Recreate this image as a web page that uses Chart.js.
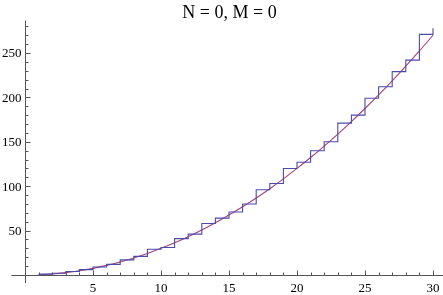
<!DOCTYPE html>
<html>
<head>
<meta charset="utf-8">
<script src="https://cdn.jsdelivr.net/npm/chart.js@4/dist/chart.umd.min.js"></script>
<style>
html, body { margin: 0; padding: 0; background: #ffffff; }
#wrap { width: 443px; height: 295px; position: relative; }
</style>
</head>
<body>
<div id="wrap"><canvas id="myChart"></canvas></div>
<script>
const titleText = "N = 0, M = 0";

// step function: value held on [n, n+1)
const stepX = [1, 2, 3, 4, 5, 6, 7, 8, 9, 10, 11, 12, 13, 14, 15, 16, 17, 18, 19, 20, 21, 22, 23, 24, 25, 26, 27, 28, 29, 30];
const stepY = [1, 2, 4, 6, 9, 12, 17, 21, 29, 31, 41, 46, 58, 64, 71, 80, 96, 103, 120, 127, 140, 150, 171, 180, 199, 212, 229, 242, 271, 278];

// smooth curve
const curveX = [1, 2, 3, 4, 5, 6, 7, 8, 9, 10, 11, 12, 13, 14, 15, 16, 17, 18, 19, 20, 21, 22, 23, 24, 25, 26, 27, 28, 29, 30];
const curveY = [0.3, 1.2, 2.7, 4.8, 7.5, 10.8, 14.7, 19.2, 24.3, 30, 36.3, 43.2, 50.7, 58.8, 67.5, 76.8, 86.7, 97.2, 108.3, 120, 132.3, 145.2, 158.7, 172.8, 187.5, 202.8, 218.7, 235.2, 252.3, 270];

const xTicks = [5, 10, 15, 20, 25, 30];
const yTicks = [50, 100, 150, 200, 250];

const axisColor = "#555555";
const serif = "'Liberation Serif', 'DejaVu Serif', serif";

const axesPlugin = {
    id: "mmaAxes",
    beforeDatasetsDraw(chart) {
        const c = chart.ctx;
        const xs = chart.scales.x;
        const ys = chart.scales.y;
        const x0 = Math.round(xs.getPixelForValue(0)) + 0.5;
        const y0 = Math.round(ys.getPixelForValue(0)) + 0.5;
        c.save();
        c.strokeStyle = axisColor;
        c.lineWidth = 1;
        c.beginPath();
        c.moveTo(xs.getPixelForValue(-1), y0);
        c.lineTo(xs.getPixelForValue(30.74), y0);
        c.moveTo(x0, ys.getPixelForValue(-9));
        c.lineTo(x0, ys.getPixelForValue(286.5));
        // x ticks, pointing up
        for (let v = 1; v <= 30; v++) {
            const px = Math.round(xs.getPixelForValue(v)) + 0.5;
            const len = v % 5 === 0 ? 5 : 3;
            c.moveTo(px, y0);
            c.lineTo(px, y0 - len);
        }
        // y ticks, pointing right
        for (let v = 10; v <= 280; v += 10) {
            const py = Math.round(ys.getPixelForValue(v)) + 0.5;
            const len = v % 50 === 0 ? 5 : 3;
            c.moveTo(x0, py);
            c.lineTo(x0 + len, py);
        }
        c.stroke();

        c.fillStyle = "#000000";
        c.font = "13px " + serif;
        c.textAlign = "center";
        c.textBaseline = "alphabetic";
        xTicks.forEach(v => {
            c.fillText(String(v), xs.getPixelForValue(v), 292);
        });
        c.textAlign = "right";
        c.textBaseline = "middle";
        yTicks.forEach(v => {
            c.fillText(String(v), x0 - 4, ys.getPixelForValue(v) + 1);
        });

        c.font = "18px " + serif;
        c.textAlign = "center";
        c.textBaseline = "alphabetic";
        c.fillText(titleText, 229.5, 18);
        c.restore();
    }
};

const ctx = document.getElementById("myChart").getContext("2d");

const data = {
    datasets: [
        {
            label: "step",
            data: stepX.map((x, i) => ({ x: x, y: stepY[i] })),
            stepped: "before",
            borderColor: "#4b4bab",
            borderWidth: 1.1,
            pointRadius: 0,
            fill: false,
        },
        {
            label: "curve",
            data: curveX.map((x, i) => ({ x: x, y: curveY[i] })),
            borderColor: "#a3407a",
            borderWidth: 1.1,
            pointRadius: 0,
            cubicInterpolationMode: "monotone",
            fill: false,
        },
    ],
};

const config = {
    type: "line",
    data: data,
    options: {
        responsive: true,
        maintainAspectRatio: false,
        animation: false,
        layout: { padding: 0 },
        plugins: {
            legend: { display: false },
            title: { display: false },
            tooltip: { enabled: false },
        },
        scales: {
            x: { type: "linear", min: -25 / 13.6, max: 418 / 13.6, display: false },
            y: { type: "linear", min: -20 / 0.888, max: 275 / 0.888, display: false },
        },
    },
    plugins: [axesPlugin],
};

const myChart = new Chart(ctx, config);
</script>
</body>
</html>
